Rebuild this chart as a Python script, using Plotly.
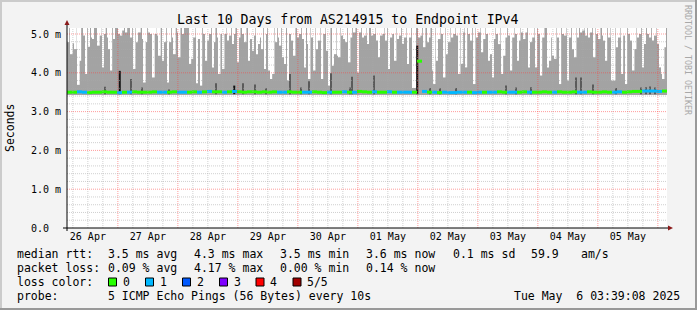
import plotly.graph_objects as go
import pandas as pd

# ---------------- data ----------------
START = pd.Timestamp("2025-04-26 03:39:08")
END = pd.Timestamp("2025-05-06 03:39:08")

day_dates = ["2025-04-26", "2025-04-27", "2025-04-28", "2025-04-29", "2025-04-30",
             "2025-05-01", "2025-05-02", "2025-05-03", "2025-05-04", "2025-05-05"]
day_labels = ["26 Apr", "27 Apr", "28 Apr", "29 Apr", "30 Apr",
              "01 May", "02 May", "03 May", "04 May", "05 May"]

y_tick_vals = [0, 1, 2, 3, 4, 5]
y_tick_text = ["0.0\u00a0\u00a0", "1.0 m", "2.0 m", "3.0 m", "4.0 m", "5.0 m"]

# smoke body (ms), hours since start
smoke_hours = [0, 240]
smoke_low = 3.43
smoke_high = 5.40

# white notches in the smoke: (hours since start, lowest point of notch in ms)
smoke_gaps = [
    (0.5, 4.79), (1.9, 4.48), (2.7, 4.76), (3.5, 4.61), (4.7, 3.69), (5.3, 4.31), (6.8, 4.96),
    (7.7, 3.97), (8.8, 4.67), (10.0, 4.91), (10.4, 4.87), (12.7, 4.70), (13.5, 4.96), (14.4, 4.14),
    (15.1, 5.00), (16.4, 4.91), (17.1, 4.61), (17.7, 4.06), (18.8, 4.87), (20.8, 5.00), (21.7, 4.96),
    (22.4, 5.09), (23.7, 5.04), (25.7, 4.91), (27.0, 4.10), (28.0, 4.79), (29.1, 5.04), (30.4, 4.87),
    (31.1, 3.75), (31.7, 4.79), (32.8, 5.04), (33.7, 5.00), (34.7, 3.88), (35.5, 5.00), (36.4, 4.96),
    (37.1, 4.44), (38.4, 4.31), (39.3, 4.79), (40.4, 3.75), (41.3, 4.79), (42.4, 4.91), (43.1, 4.48),
    (44.4, 5.04), (45.0, 4.40), (46.4, 5.00),
    (49.3, 4.23), (50.1, 4.36), (51.0, 4.91), (52.0, 3.73), (52.8, 4.87), (53.7, 3.67), (55.0, 5.00),
    (55.7, 4.31), (56.4, 4.83), (57.3, 5.00), (58.4, 4.14), (59.0, 4.79), (60.4, 4.91), (61.0, 3.97),
    (61.7, 5.00), (62.6, 4.10), (63.4, 5.00), (64.4, 4.83), (65.3, 4.96), (66.4, 4.74), (67.0, 5.00),
    (68.4, 4.27), (69.0, 4.91), (70.4, 5.00), (71.4, 4.79), (72.8, 4.31), (73.7, 4.87), (74.4, 4.57),
    (75.0, 4.96), (76.0, 4.48), (76.8, 4.74), (77.3, 4.91), (78.1, 4.61), (79.2, 4.10), (79.7, 5.00),
    (81.0, 4.06), (81.7, 3.84), (82.1, 4.27), (82.6, 3.97), (83.7, 4.79), (84.8, 4.91), (85.3, 4.70),
    (86.4, 4.40), (87.2, 4.23), (88.4, 3.80), (89.3, 5.00), (90.1, 4.83), (91.0, 4.44), (92.4, 4.91),
    (93.3, 5.00), (94.4, 4.87), (95.2, 4.14),
    (96.4, 4.74), (97.0, 3.84), (98.1, 4.91), (99.0, 4.06), (100.0, 4.61), (101.0, 4.83), (102.1, 3.84),
    (103.0, 5.00), (104.0, 4.57), (105.0, 3.67), (106.4, 4.18), (107.4, 4.48), (108.4, 4.44),
    (109.0, 4.40), (110.1, 4.96), (111.0, 4.87), (111.7, 4.79), (113.0, 4.27), (113.7, 4.91),
    (115.0, 5.04), (116.4, 4.01), (117.3, 5.04), (118.4, 4.91), (119.4, 4.96), (120.4, 4.74),
    (122.1, 4.96), (123.0, 5.00), (124.0, 4.83), (124.8, 4.40), (125.8, 4.96), (126.6, 5.00),
    (127.7, 4.83), (128.8, 4.10), (129.7, 4.91), (130.6, 5.00), (131.4, 4.31), (132.4, 4.87),
    (133.3, 4.96), (134.4, 4.74), (135.4, 4.91), (136.4, 4.23), (137.3, 4.91), (138.4, 3.61),
    (138.8, 3.61), (139.2, 3.61), (141.0, 4.91), (141.7, 4.96), (143.0, 4.66),
    (144.4, 4.79), (145.0, 4.91), (146.4, 4.06), (147.0, 3.71), (148.0, 4.31), (149.0, 4.87),
    (150.1, 5.00), (151.0, 3.88), (152.0, 4.48), (153.0, 4.79), (154.1, 4.91), (155.0, 5.00),
    (156.0, 4.96), (157.0, 3.97), (158.1, 4.23), (158.6, 5.04), (159.7, 4.14), (160.8, 5.00),
    (161.7, 4.83), (163.0, 3.71), (164.0, 4.91), (165.0, 5.04), (166.1, 4.53), (167.0, 4.87),
    (168.0, 5.00), (168.8, 4.31), (169.7, 4.48), (170.4, 3.88), (171.0, 4.87), (172.0, 5.00),
    (173.0, 4.74), (174.1, 3.97), (175.0, 4.44), (175.7, 4.91), (176.8, 4.96), (177.7, 4.06),
    (178.6, 4.91), (179.7, 5.00), (180.4, 4.31), (181.0, 4.83), (182.1, 5.04), (183.0, 4.87),
    (183.7, 5.04), (184.8, 4.14), (185.7, 4.79), (186.6, 4.91), (187.7, 4.14), (188.8, 5.00),
    (189.7, 3.93), (190.6, 4.91),
    (192.4, 4.14), (193.3, 4.31), (193.8, 4.91), (194.6, 4.44), (195.4, 4.36), (196.4, 4.91),
    (197.3, 3.71), (198.4, 5.00), (199.4, 4.96), (200.4, 3.80), (201.3, 4.91), (202.4, 4.61),
    (203.4, 4.40), (204.4, 4.91), (205.7, 5.04), (206.6, 5.09), (207.7, 4.96), (208.8, 4.91),
    (209.7, 5.04), (211.0, 4.40), (212.0, 5.00), (213.0, 4.87), (214.4, 4.96), (215.0, 4.83),
    (215.7, 4.31), (217.0, 4.91), (218.1, 3.80), (219.0, 3.80), (220.0, 4.66), (221.0, 4.91),
    (222.1, 3.97), (223.0, 4.96), (223.7, 3.71), (224.8, 5.00), (225.7, 4.83), (226.6, 4.06),
    (227.4, 4.61), (228.4, 4.91), (229.3, 5.00), (230.4, 4.14), (231.2, 4.74), (232.4, 5.00),
    (233.3, 4.91), (234.4, 4.83), (235.4, 4.96), (236.4, 4.74), (237.3, 4.14), (238.1, 3.97),
    (238.6, 3.84), (239.2, 4.66),
]

# dense (dark) smoke streaks: (hours since start, top in ms)
gray_streaks = [
    (15.3, 3.64), (25.7, 3.84), (30.1, 3.62), (40.9, 3.57), (59.7, 3.73), (70.5, 3.73),
    (75.3, 3.70), (79.7, 3.60), (89.3, 3.97), (93.7, 3.62), (96.9, 3.78), (105.7, 3.99),
    (113.3, 3.62), (114.1, 3.90), (122.9, 3.93), (145.1, 3.61), (149.1, 3.60), (155.7, 3.61),
    (175.7, 3.67), (179.7, 3.62), (185.7, 3.63), (203.7, 3.88), (205.7, 3.88), (210.5, 3.70),
    (219.7, 3.61), (229.7, 3.62), (231.7, 3.63), (233.3, 3.65), (235.3, 3.62),
]
black_streaks = [(21.1, 4.05), (66.9, 3.67), (140.1, 4.70)]
streak_floor = 3.45

# median rtt (ms) per 2-hour bin and number of lost pings per bin
median_rtt = [
    3.50, 3.50, 3.51, 3.50, 3.49, 3.50, 3.50, 3.51, 3.50, 3.50,
    3.49, 3.50, 3.50, 3.51, 3.50, 3.50, 3.50, 3.51, 3.50, 3.50,
    3.50, 3.51, 3.50, 3.50, 3.50, 3.51, 3.50, 3.51, 3.52, 3.51,
    3.51, 3.50, 3.51, 3.52, 3.51, 3.50, 3.51, 3.51, 3.50, 3.51,
    3.50, 3.51, 3.50, 3.50, 3.51, 3.50, 3.50, 3.50, 3.50, 3.51,
    3.50, 3.49, 3.50, 3.50, 3.50, 3.51, 3.50, 3.50, 3.52, 3.51,
    3.50, 3.51, 3.50, 3.50, 3.51, 3.50, 3.50, 3.50, 3.50, 3.50,
    4.30, 3.52, 3.50, 3.50, 3.49, 3.50, 3.49, 3.49, 3.50, 3.50,
    3.50, 3.49, 3.50, 3.50, 3.50, 3.50, 3.51, 3.50, 3.50, 3.50,
    3.50, 3.51, 3.50, 3.50, 3.50, 3.51, 3.50, 3.50, 3.51, 3.50,
    3.50, 3.51, 3.50, 3.50, 3.51, 3.50, 3.50, 3.51, 3.50, 3.50,
    3.51, 3.50, 3.51, 3.52, 3.52, 3.53, 3.53, 3.53, 3.52, 3.53,
]
loss_count = [
    0, 0, 1, 1, 0, 0, 0, 0, 0, 0,
    1, 0, 1, 0, 0, 0, 0, 0, 1, 1,
    0, 0, 1, 1, 0, 0, 1, 0, 1, 0,
    0, 1, 0, 1, 0, 0, 0, 0, 0, 0,
    0, 0, 1, 1, 0, 0, 0, 1, 1, 0,
    0, 0, 1, 0, 0, 1, 0, 1, 0, 0,
    0, 1, 0, 0, 1, 0, 1, 1, 1, 0,
    0, 1, 0, 1, 0, 1, 1, 1, 1, 1,
    0, 1, 1, 0, 1, 1, 0, 0, 1, 1,
    0, 0, 1, 0, 0, 0, 0, 1, 0, 0,
    0, 0, 1, 1, 0, 0, 0, 0, 0, 1,
    1, 0, 0, 0, 0, 1, 1, 1, 1, 0,
]
BIN_HOURS = 2

loss_labels = ["0", "1", "2", "3", "4", "5/5"]
loss_colors = ["#26ff00", "#00b8ff", "#0059ff", "#7e00ff", "#ff0000", "#a10000"]

legend_rows = [
    ["median rtt:", "3.5 ms avg", "4.3 ms max", "3.5 ms min", "3.6 ms now", "0.1 ms sd", "59.9", "am/s"],
    ["packet loss:", "0.09 % avg", "4.17 % max", "0.00 % min", "0.14 % now"],
]
probe_text = "5 ICMP Echo Pings (56 Bytes) every 10s"
stamp_text = "Tue May \u00a06 03:39:08 2025"
title_text = "Last 10 Days from AS214915 to Endpoint IPv4"

# ---------------- helpers ----------------
W, H = 697, 310
ML, MR, MT, MB = 67, 30, 28, 82
PW, PH = W - ML - MR, H - MT - MB
YMAX = 5.155
MONO = "DejaVu Sans Mono"
HOUR_MS = 3600e3


def t(h):
    return START + pd.Timedelta(hours=h)


def px(xp):
    return (xp - ML) / PW


def py(yp):
    return (MT + PH - yp) / PH


fig = go.Figure()

# smoke body (a single wide bar so that the bar notches can sit on top of it)
span = smoke_hours[1] - smoke_hours[0]
fig.add_trace(go.Bar(x=[t(smoke_hours[0] + span / 2)], base=[smoke_low], y=[smoke_high - smoke_low],
                     width=span * HOUR_MS, marker=dict(color="#a3a3a3", line=dict(width=0)),
                     hoverinfo="skip"))

# white notches
gh = [g[0] for g in smoke_gaps]
gb = [g[1] for g in smoke_gaps]
fig.add_trace(go.Bar(x=[t(h) for h in gh], base=gb, y=[smoke_high - b for b in gb],
                     width=0.75 * HOUR_MS, marker=dict(color="white", line=dict(width=0)),
                     hoverinfo="skip"))

# dark streaks
fig.add_trace(go.Bar(x=[t(s[0]) for s in gray_streaks], base=[streak_floor] * len(gray_streaks),
                     y=[s[1] - streak_floor for s in gray_streaks],
                     width=0.45 * HOUR_MS, marker=dict(color="#5a5a5a", line=dict(width=0)),
                     hoverinfo="skip"))
fig.add_trace(go.Bar(x=[t(s[0]) for s in black_streaks], base=[streak_floor] * len(black_streaks),
                     y=[s[1] - streak_floor for s in black_streaks],
                     width=0.8 * HOUR_MS, marker=dict(color="#111111", line=dict(width=0)),
                     hoverinfo="skip"))

# median line coloured by loss (one horizontal step per bin)
for lvl in sorted(set(loss_count)):
    xs, ys = [], []
    for i, (m, l) in enumerate(zip(median_rtt, loss_count)):
        if l != lvl:
            continue
        h0, h1 = i * BIN_HOURS, (i + 1) * BIN_HOURS
        xs += [t(h0), t(h1), None]
        ys += [m, m, None]
    fig.add_trace(go.Scatter(x=xs, y=ys, mode="lines",
                             line=dict(color=loss_colors[lvl], width=3),
                             hoverinfo="skip"))

shapes = []
# grid (drawn above the data, like rrdtool)
RED = "rgba(255,60,60,0.5)"
GRAY = "rgba(170,170,170,0.55)"
for g in pd.date_range("2025-04-26 06:00", END, freq="6h"):
    major = g.hour == 0
    shapes.append(dict(type="line", xref="x", yref="paper", x0=g, x1=g, y0=0, y1=1,
                       layer="above", line=dict(color=RED if major else GRAY, width=1, dash="1px,1px")))
for k in range(1, 26):
    v = k * 0.2
    major = k % 5 == 0
    shapes.append(dict(type="line", xref="paper", yref="y", x0=0, x1=1, y0=v, y1=v,
                       layer="above", line=dict(color=RED if major else GRAY, width=1, dash="1px,1px")))
# axes with arrows
shapes.append(dict(type="line", xref="paper", yref="paper", x0=0, x1=0, y0=py(231), y1=py(24),
                   line=dict(color="black", width=1), layer="above"))
shapes.append(dict(type="line", xref="paper", yref="paper", x0=px(63), x1=px(668), y0=0, y1=0,
                   line=dict(color="black", width=1), layer="above"))
shapes.append(dict(type="path", xref="paper", yref="paper", xsizemode="pixel", ysizemode="pixel",
                   xanchor=0, yanchor=1, path="M -2.5,3 L 2.5,3 L 0,8 Z",
                   fillcolor="#8b1a1a", line=dict(width=0), layer="above"))
shapes.append(dict(type="path", xref="paper", yref="paper", xsizemode="pixel", ysizemode="pixel",
                   xanchor=1, yanchor=0, path="M 1,-2.5 L 1,2.5 L 6,0 Z",
                   fillcolor="#8b1a1a", line=dict(width=0), layer="above"))
# image frame
shapes.append(dict(type="line", xref="paper", yref="paper", x0=px(0), x1=px(W), y0=py(1), y1=py(1),
                   line=dict(color="#cbcbcb", width=2)))
shapes.append(dict(type="line", xref="paper", yref="paper", x0=px(1), x1=px(1), y0=py(0), y1=py(H),
                   line=dict(color="#cbcbcb", width=2)))
shapes.append(dict(type="line", xref="paper", yref="paper", x0=px(0), x1=px(W), y0=py(H - 1), y1=py(H - 1),
                   line=dict(color="#999999", width=2)))
shapes.append(dict(type="line", xref="paper", yref="paper", x0=px(W - 1), x1=px(W - 1), y0=py(0), y1=py(H),
                   line=dict(color="#999999", width=2)))

# loss colour boxes
box_left = [108.5, 145.5, 182.5, 219.5, 256, 293]
for bx, c in zip(box_left, loss_colors):
    shapes.append(dict(type="rect", xref="paper", yref="paper",
                       x0=px(bx), x1=px(bx + 8), y0=py(286), y1=py(278),
                       fillcolor=c, line=dict(color="black", width=1)))

ann = []


def txt(s, x, y, size=11.5, anchor="left", color="black", angle=0):
    ann.append(dict(text=s, x=px(x), y=py(y), xref="paper", yref="paper", showarrow=False,
                    xanchor=anchor, yanchor="middle", textangle=angle, borderpad=0,
                    font=dict(family=MONO, size=size, color=color)))


txt(title_text, 347.5, 19, size=13.2, anchor="center")
txt("Seconds", 10, 128, size=11.5, anchor="center", angle=-90)
txt("RRDTOOL / TOBI OETIKER", 688, 60, size=8.3, anchor="center", color="#a8a8a8", angle=90)

row_x = [16, 107, 193, 279, 365, 452, 530, 580]
for row, yy in zip(legend_rows, [254, 268]):
    for s, xx in zip(row, row_x):
        txt(s, xx, yy)
txt("loss color:", 16, 282)
for bx, lab in zip(box_left, loss_labels):
    txt(lab, bx + 13, 282)
txt("probe:", 16, 296)
txt(probe_text, 107, 296)
txt(stamp_text, 681, 296, anchor="right")

fig.update_layout(
    width=W, height=H, margin=dict(l=ML, r=MR, t=MT, b=MB),
    paper_bgcolor="#f3f3f3", plot_bgcolor="white",
    showlegend=False, barmode="overlay",
    shapes=shapes, annotations=ann,
    font=dict(family=MONO, color="black"),
    xaxis=dict(type="date", range=[START, END], showgrid=False, zeroline=False,
               tickvals=[pd.Timestamp(d) + pd.Timedelta(hours=12) for d in day_dates],
               ticktext=day_labels, ticks="", tickfont=dict(size=10, family=MONO),
               ticklabelstandoff=1),
    yaxis=dict(range=[0, YMAX], showgrid=False, zeroline=False,
               tickvals=y_tick_vals, ticktext=y_tick_text, ticks="",
               tickfont=dict(size=10, family=MONO), ticklabelstandoff=5),
)

fig.write_html("out.html")
